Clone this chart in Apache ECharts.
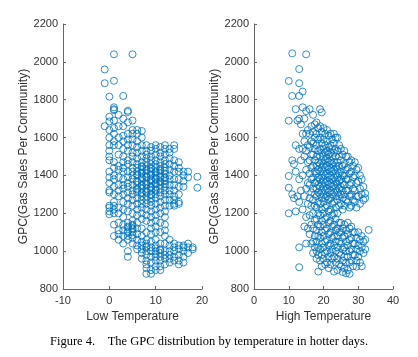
<!DOCTYPE html>
<html><head><meta charset="utf-8">
<script src="https://cdn.jsdelivr.net/npm/echarts@6/dist/echarts.min.js"></script>
<style>html,body{margin:0;padding:0;background:#fff}#c{width:418px;height:357px}</style>
</head><body><div id="c"></div>
<script>
// Low temperature columns (x) and GPC values at each
const lowX = [-1,0,1,2,3,4,5,6,7,8,9,10,11,12,13,14,15,16,17,18,19];
const lowY = [
 [1960,1887,1660],
 [1816,1710,1685,1640,1600,1560,1530,1500,1480,1420,1390,1360,1320,1310,1240,1210,1195,1230],
 [2040,1900,1760,1750,1745,1690,1650,1620,1580,1560,1470,1440,1400,1380,1340,1300,1260,1240,1220,1200,1140,1080],
 [1720,1660,1600,1560,1510,1450,1430,1390,1350,1320,1290,1230,1200,1150,1110,1090,1060],
 [1820,1700,1660,1610,1580,1540,1500,1470,1440,1420,1380,1350,1330,1300,1260,1220,1180,1140,1110,1080,1040],
 [1742,1735,1680,1620,1590,1560,1530,1480,1460,1420,1390,1360,1340,1310,1280,1250,1210,1150,1130,1100,1080,1060,1000,970,1125,1105],
 [2040,1690,1640,1620,1590,1560,1520,1500,1470,1440,1420,1400,1380,1350,1320,1300,1270,1240,1200,1160,1140,1120,1100,1070,1040,1135,1115,1085],
 [1640,1620,1580,1550,1520,1490,1460,1440,1420,1400,1370,1350,1330,1310,1280,1250,1220,1190,1150,1120,1090,1060,1030,1010,1405,1365,1325],
 [1635,1600,1560,1530,1500,1470,1450,1430,1410,1390,1370,1350,1330,1310,1290,1270,1250,1230,1200,1170,1120,1080,1050,1030,1010,990,960,1445,1415,1385,1345,1305],
 [1560,1530,1510,1490,1470,1450,1430,1410,1390,1370,1350,1330,1310,1290,1270,1250,1220,1190,1160,1100,1060,1040,1020,1000,980,950,930,910,880,1425,1395,1355,1315,1025],
 [1550,1530,1500,1480,1460,1440,1420,1400,1380,1360,1340,1320,1300,1280,1260,1240,1210,1180,1150,1120,1090,1050,1020,1000,970,940,900,880,1435,1405,1375,1335,1295],
 [1560,1540,1510,1480,1460,1440,1420,1400,1380,1360,1340,1320,1300,1280,1250,1220,1190,1160,1130,1100,1060,1030,1000,970,950,920,900,1415,1385,1355,1325,1015,985],
 [1550,1520,1500,1470,1450,1430,1410,1390,1370,1350,1330,1310,1290,1260,1230,1200,1150,1100,1040,1010,990,970,950,920,900,1425,1395,1365,1005],
 [1560,1540,1510,1480,1460,1440,1410,1390,1370,1340,1320,1300,1270,1240,1210,1180,1140,1110,1080,1040,1000,980,960,930,1425,1385,1355],
 [1540,1520,1490,1460,1430,1400,1380,1350,1320,1300,1270,1240,1060,1030,1000,980,960,940],
 [1560,1540,1480,1450,1420,1380,1350,1320,1290,1270,1250,1240,1040,1020,1000,970,950],
 [1470,1440,1420,1380,1340,1300,1260,1250,1030,1010,980,950,930],
 [1420,1400,1370,1340,1030,1020,1000,970,940],
 [1420,1390,1040,1020,990],
 [1020,1010],
 [1393,1335]
];
// High temperature columns (x) and GPC values at each
const highX = [10,11,11.5,12,12.5,13,13.5,14,14.5,15,15.5,16,16.5,17,17.5,18,18.5,19,19.5,20,20.5,21,21.5,22,22.5,23,23.5,24,24.5,25,25.5,26,26.5,27,27.5,28,28.5,29,29.5,30,30.5,31,31.5,32,33];
const highY = [
 [1899,1689,1397,1335,1200],
 [2045,1820,1480,1300],
 [1460,1280],
 [1750,1560,1420,1210],
 [1690,1290],
 [1962,1887,1820,1700,1540,1380,1260,1020,915],
 [1670,1480,1320],
 [1843,1760,1620,1540,1400,1220],
 [1700,1580,1500,1290,1130],
 [2040,1740,1620,1530,1430,1330,1180,1040],
 [1640,1560,1470,1360,1250,1120],
 [1750,1620,1550,1480,1410,1350,1280,1190,1090],
 [1660,1580,1510,1440,1380,1310,1240,1140,1040],
 [1720,1630,1570,1510,1450,1390,1330,1270,1200,1120,1050,990],
 [1670,1600,1540,1480,1420,1360,1300,1240,1160,1080,1020],
 [1680,1620,1560,1500,1450,1410,1370,1330,1290,1230,1170,1110,1050,1000,960],
 [1650,1590,1530,1470,1430,1390,1350,1310,1260,1200,1140,1080,1020,980,892],
 [1750,1660,1600,1540,1500,1460,1420,1380,1340,1300,1250,1190,1130,1070,1010,950],
 [1733,1630,1570,1520,1480,1440,1400,1360,1320,1280,1220,1160,1100,1040,980,920],
 [1650,1590,1540,1500,1460,1420,1380,1340,1300,1260,1200,1140,1080,1020,960],
 [1620,1560,1520,1480,1440,1400,1360,1320,1280,1230,1170,1110,1050,990,930],
 [1640,1580,1530,1490,1450,1410,1370,1330,1290,1240,1180,1120,1060,1000,940],
 [1610,1550,1510,1470,1430,1390,1350,1310,1270,1210,1150,1090,1030,970,910],
 [1620,1560,1520,1480,1440,1400,1360,1320,1280,1220,1160,1100,1040,990,930],
 [1590,1540,1500,1460,1420,1380,1340,1300,1250,1190,1130,1070,1010,960],
 [1620,1570,1520,1470,1430,1390,1350,1310,1260,1200,1140,1080,1030,970,892],
 [1600,1540,1500,1450,1410,1370,1330,1290,1230,1170,1110,1050,1000,940],
 [1600,1530,1470,1430,1390,1350,1310,1270,1200,1120,1080,1020,960,900],
 [1560,1500,1450,1410,1370,1330,1290,1240,1150,1100,1050,990,930],
 [1540,1480,1420,1380,1340,1300,1250,1150,1100,1040,980,920],
 [1510,1450,1400,1360,1320,1280,1220,1120,1070,1010,950,890],
 [1530,1460,1400,1350,1300,1240,1140,1080,1020,970,910],
 [1500,1430,1380,1320,1270,1110,1050,1000,940,883],
 [1500,1440,1380,1320,1260,1150,1090,1030,970,900],
 [1470,1410,1350,1290,1230,1120,1060,1000,940,880],
 [1480,1420,1360,1300,1240,1130,1070,1010,950],
 [1450,1390,1330,1270,1100,1040,980,920],
 [1470,1400,1320,1260,1100,1040,980],
 [1430,1360,1290,1230,1070,1010,950,918],
 [1440,1370,1290,1100,1030,970],
 [1400,1330,1250,1060,1000,940],
 [1380,1300,1080,1020,920],
 [1340,1270,1050,990],
 [1305,1280,1060,1010],
 [1112]
];
const xTicksLow = [-10, 20, 10];   // min, max, interval
const xTicksHigh = [0, 40, 10];
const yTicks = [800, 2200, 200];
const yName = 'GPC(Gas Sales Per Community)';
const xNames = ['Low Temperature', 'High Temperature'];
const caption = 'Figure 4.    The GPC distribution by temperature in hotter days.';

function pairs(xs, ys){ const out=[]; xs.forEach((x,i)=>ys[i].forEach(y=>out.push([x,y]))); return out; }

const axisColor = '#666';
const labelColor = '#333';
const plain = v => String(v);
function xAxisOf(idx, t, name){
  return {gridIndex: idx, type:'value', min:t[0], max:t[1], interval:t[2],
    name:name, nameLocation:'middle', nameGap:21,
    nameTextStyle:{color:labelColor, fontSize:12, fontFamily:'Liberation Sans'},
    axisLine:{onZero:false, lineStyle:{color:axisColor, width:1}},
    axisTick:{inside:true, length:3, lineStyle:{color:axisColor}},
    axisLabel:{color:labelColor, fontSize:11, fontFamily:'Liberation Sans', margin:6, formatter:plain},
    splitLine:{show:false}};
}
function yAxisOf(idx){
  return {gridIndex: idx, type:'value', min:yTicks[0], max:yTicks[1], interval:yTicks[2],
    name:yName, nameLocation:'middle', nameGap:28, nameRotate:90,
    nameTextStyle:{color:labelColor, fontSize:12, fontFamily:'Liberation Sans'},
    axisLine:{show:true, onZero:false, lineStyle:{color:axisColor, width:1}},
    axisTick:{show:true, inside:true, length:3, lineStyle:{color:axisColor}},
    axisLabel:{color:labelColor, fontSize:11, fontFamily:'Liberation Sans', margin:5, formatter:plain},
    splitLine:{show:false}};
}
const ser = (idx, data) => ({type:'scatter', xAxisIndex:idx, yAxisIndex:idx, data:data,
  symbol:'circle', symbolSize:7,
  itemStyle:{color:'rgba(0,0,0,0)', borderColor:'#0072BD', borderWidth:0.8, opacity:1},
  emphasis:{disabled:true}, animation:false});

const chart = echarts.init(document.getElementById('c'), null, {renderer:'canvas'});
chart.setOption({
  animation:false,
  backgroundColor:'#fff',
  grid:[{left:63, top:24, width:139, height:265}, {left:254, top:24, width:139, height:265}],
  xAxis:[xAxisOf(0, xTicksLow, xNames[0]), xAxisOf(1, xTicksHigh, xNames[1])],
  yAxis:[yAxisOf(0), yAxisOf(1)],
  series:[ser(0, pairs(lowX, lowY)), ser(1, pairs(highX, highY))],
  graphic:[{type:'text', left:'center', top:335,
    style:{text:caption, fill:'#000', font:'12.5px "Liberation Serif"'}}]
});
</script></body></html>
